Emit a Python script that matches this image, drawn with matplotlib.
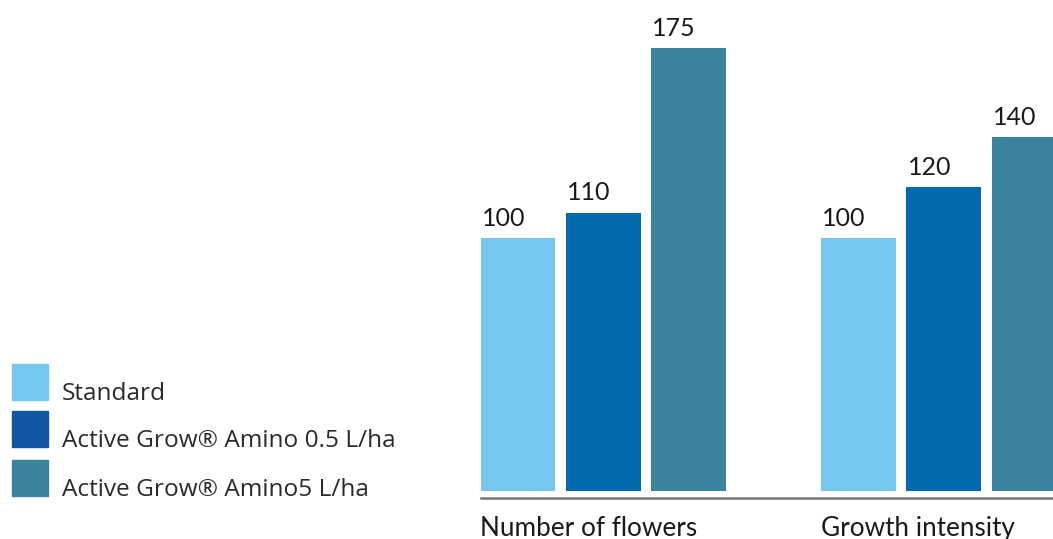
import matplotlib.pyplot as plt
from matplotlib.patches import Rectangle
import numpy as np

categories = ["Number of flowers", "Growth intensity"]
series = ["Standard", "Active Grow® Amino 0.5 L/ha", "Active Grow® Amino5 L/ha"]
values = {
    "Standard": [100, 100],
    "Active Grow® Amino 0.5 L/ha": [110, 120],
    "Active Grow® Amino5 L/ha": [175, 140],
}
colors = ["#75C7F0", "#036AB0", "#3A849F"]
legend_colors = ["#75C7F0", "#1157A3", "#3A849F"]

W, H = 1053, 539
fig = plt.figure(figsize=(W / 100, H / 100), dpi=100)
ax = fig.add_axes([481 / W, 41 / H, 1 - 481 / W, 1 - 41 / H])

x = np.arange(len(categories))
step = 0.2507
width = 0.22

for i, name in enumerate(series):
    pos = x + (i - 1) * step
    bars = ax.bar(pos, values[name], width=width, color=colors[i], zorder=2)
    for b, v in zip(bars, values[name]):
        ax.annotate(f"{v}", (b.get_x(), v), xytext=(1, 6), textcoords="offset points",
                    ha="left", va="bottom", fontsize=18, family="Lato", color="#1a1a1a",
                    annotation_clip=False)

ax.set_xlim(-0.358, 1.320)
ax.set_ylim(-2.77, 194.1)
for s in ["top", "right", "left"]:
    ax.spines[s].set_visible(False)
ax.spines["bottom"].set_color("#777777")
ax.spines["bottom"].set_linewidth(1.8)
ax.set_xticks([])
ax.set_yticks([])

for i, c in enumerate(categories):
    ax.text(x[i] - step - width / 2, -38 / (H - 41), c, transform=ax.get_xaxis_transform(),
            ha="left", va="baseline", fontsize=18.8, family="Lato", color="#1a1a1a")

# legend drawn by hand
sw_tops = [364, 411, 460]
for i, name in enumerate(series):
    fig.patches.append(Rectangle((12 / W, 1 - (sw_tops[i] + 36) / H), 36 / W, 36 / H,
                                 transform=fig.transFigure, color=legend_colors[i]))
    fig.text(62 / W, 1 - (sw_tops[i] + 36) / H, name, ha="left", va="baseline",
             fontsize=17.6, family="Open Sans", color="#2a2a2a")

fig.savefig("out.png", dpi=100)
